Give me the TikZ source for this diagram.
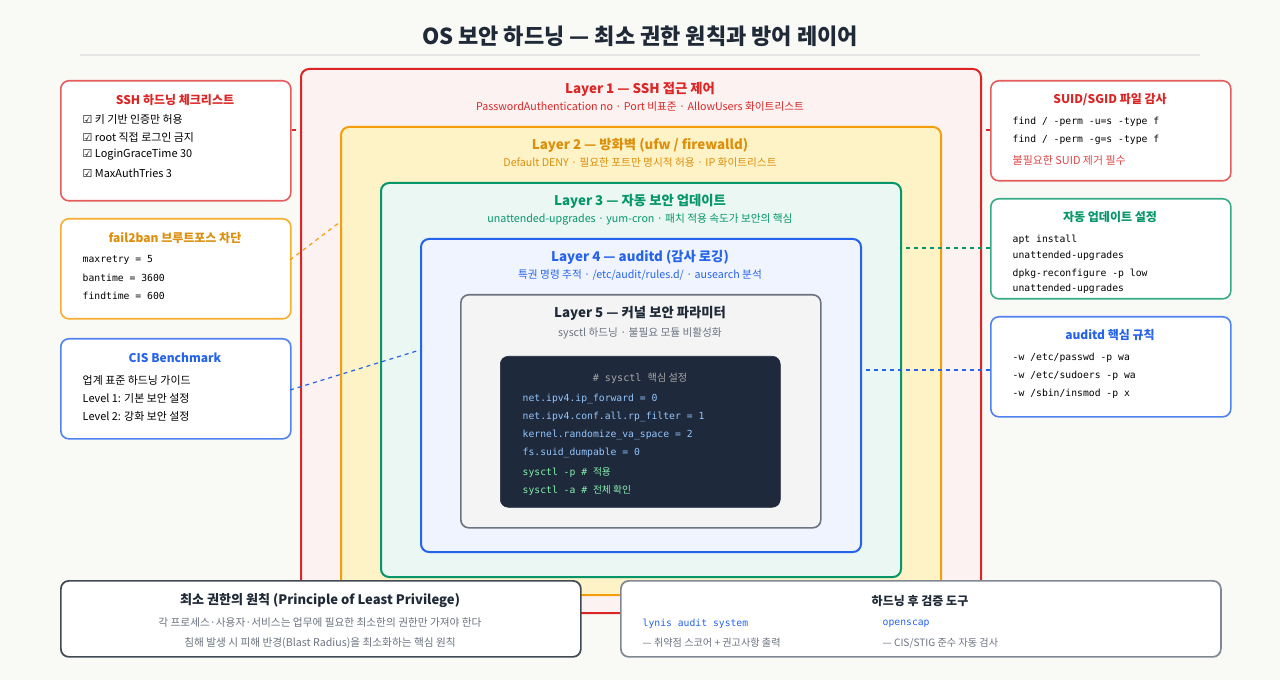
\documentclass[tikz,border=0pt]{standalone}
\usepackage{fontspec}
\setmainfont{Noto Sans CJK KR}
\setmonofont{DejaVu Sans Mono}
\newfontfamily\kr{Noto Sans CJK KR}
\newfontfamily\djsans{DejaVu Sans}
\usetikzlibrary{positioning}
\definecolor{cred}{HTML}{DC2626}
\definecolor{cora}{HTML}{F59E0B}
\definecolor{cgrn}{HTML}{059669}
\definecolor{cblu}{HTML}{2563EB}
\definecolor{cgry}{HTML}{6B7280}
\definecolor{cdark}{HTML}{1E293B}
\definecolor{ctxt}{HTML}{1F2937}
\definecolor{cbg}{HTML}{F9FAF6}
\definecolor{ccode}{HTML}{93C5FD}
\definecolor{ccodeg}{HTML}{86EFAC}
\definecolor{cyel}{HTML}{FEF3C7}
\newcommand{\bx}[6]{\node[#6, draw, rounded corners=6pt, anchor=north west, minimum width=#4*0.75pt, minimum height=#5*0.75pt, inner sep=0pt] (#1) at (#2,#3) {};}
\tikzset{
 lt/.style={font=\bfseries\fontsize{10}{12}\selectfont},
 ls/.style={font=\fontsize{8}{9}\selectfont},
 bt/.style={font=\bfseries\fontsize{9}{11}\selectfont},
 bl/.style={font=\fontsize{8.2}{9}\selectfont, anchor=west},
 ml/.style={font=\ttfamily\fontsize{7.3}{8}\selectfont, anchor=west},
 conn/.style={dashed, line width=0.9pt},
}
\begin{document}
\begin{tikzpicture}[x=0.75pt,y=-0.75pt]
\fill[cbg] (0,0) rectangle (1280,680);
\useasboundingbox (0,0) rectangle (1280,680);
\node[font=\bfseries\fontsize{16.5}{19}\selectfont, text=ctxt] (title) at (640,36) {OS 보안 하드닝 — 최소 권한 원칙과 방어 레이어};
\draw[gray!20, line width=0.8pt] (80,55) -- (1200,55);
% layers
\bx{L1}{300}{68}{680}{544}{cred, fill=cred!6, line width=1.5pt}
\bx{L2}{340}{126}{600}{468}{cora, fill=cyel, line width=1.5pt}
\bx{L3}{380}{182}{520}{394}{cgrn, fill=cgrn!8, line width=1.5pt}
\bx{L4}{420}{238}{440}{313}{cblu, fill=cblu!7, line width=1.5pt}
\bx{L5}{460}{294}{360}{233}{cgry, fill=gray!9, line width=1.2pt}
\bx{code}{500}{356}{280}{151}{cdark, fill=cdark}
\node[lt, text=cred] (l1t) at (640,89) {Layer 1 — SSH 접근 제어};
\node[ls, text=cred] (l1s) at (640,107) {PasswordAuthentication no · Port 비표준 · AllowUsers 화이트리스트};
\node[lt, text=cora!90!black] (l2t) at (640,145) {Layer 2 — 방화벽 (ufw / firewalld)};
\node[ls, text=cora!90!black] (l2s) at (640,163) {Default DENY · 필요한 포트만 명시적 허용 · IP 화이트리스트};
\node[lt, text=cgrn] (l3t) at (640,201) {Layer 3 — 자동 보안 업데이트};
\node[ls, text=cgrn] (l3s) at (640,219) {unattended-upgrades · yum-cron · 패치 적용 속도가 보안의 핵심};
\node[lt, text=cblu] (l4t) at (640,257) {Layer 4 — auditd (감사 로깅)};
\node[ls, text=cblu] (l4s) at (640,275) {특권 명령 추적 · /etc/audit/rules.d/ · ausearch 분석};
\node[lt, text=ctxt] (l5t) at (640,313) {Layer 5 — 커널 보안 파라미터};
\node[ls, text=cgry] (l5s) at (640,333) {sysctl 하드닝 · 불필요 모듈 비활성화};
\node[font=\ttfamily\fontsize{7.6}{9}\selectfont, text=gray!70] (c0) at (640,378) {\# sysctl {\kr 핵심 설정}};
\node[ml, text=ccode] (c1) at (518,399) {net.ipv4.ip\_forward = 0};
\node[ml, text=ccode] (c2) at (518,417) {net.ipv4.conf.all.rp\_filter = 1};
\node[ml, text=ccode] (c3) at (518,435) {kernel.randomize\_va\_space = 2};
\node[ml, text=ccode] (c4) at (518,453) {fs.suid\_dumpable = 0};
\node[ml, text=ccodeg] (c5) at (518,472) {sysctl -p \# {\kr 적용}};
\node[ml, text=ccodeg] (c6) at (518,490) {sysctl -a \# {\kr 전체 확인}};
% left boxes
\bx{ssh}{60}{80}{230}{120}{cred!75, fill=white, line width=1.2pt}
\node[bt, text=cred] at (175,100) {SSH 하드닝 체크리스트};
\node[bl] at (78,119) {{\djsans ☑} 키 기반 인증만 허용};
\node[bl] at (78,137) {{\djsans ☑} root 직접 로그인 금지};
\node[bl] at (78,155) {{\djsans ☑} LoginGraceTime 30};
\node[bl] at (78,173) {{\djsans ☑} MaxAuthTries 3};
\bx{f2b}{60}{218}{230}{100}{cora!85, fill=white, line width=1.2pt}
\node[bt, text=cora!90!black] at (175,238) {fail2ban 브루트포스 차단};
\node[ml] at (78,260) {maxretry = 5};
\node[ml] at (78,278) {bantime = 3600};
\node[ml] at (78,296) {findtime = 600};
\bx{cis}{60}{338}{230}{100}{cblu!80, fill=white, line width=1.2pt}
\node[bt, text=cblu] at (175,358) {CIS Benchmark};
\node[bl] at (78,380) {업계 표준 하드닝 가이드};
\node[bl] at (78,398) {Level 1: 기본 보안 설정};
\node[bl] at (78,416) {Level 2: 강화 보안 설정};
% right boxes
\bx{suid}{990}{80}{240}{100}{cred!75, fill=white, line width=1.2pt}
\node[bt, text=cred] at (1110,100) {SUID/SGID 파일 감사};
\node[ml] at (1008,122) {find / -perm -u=s -type f};
\node[ml] at (1008,140) {find / -perm -g=s -type f};
\node[bl, text=cred!85] at (1008,160) {불필요한 SUID 제거 필수};
\bx{upd}{990}{198}{240}{100}{cgrn!80, fill=white, line width=1.2pt}
\node[bt, text=cgrn] at (1110,217) {자동 업데이트 설정};
\node[ml] at (1008,240) {apt install};
\node[ml] at (1008,256) {unattended-upgrades};
\node[ml] at (1008,274) {dpkg-reconfigure -p low};
\node[ml] at (1008,289) {unattended-upgrades};
\bx{aud}{990}{316}{240}{100}{cblu!80, fill=white, line width=1.2pt}
\node[bt, text=cblu] at (1110,335) {auditd 핵심 규칙};
\node[ml] at (1008,358) {-w /etc/passwd -p wa};
\node[ml] at (1008,376) {-w /etc/sudoers -p wa};
\node[ml] at (1008,394) {-w /sbin/insmod -p x};
% connectors
\coordinate (a1) at (300,130); \coordinate (a2) at (340,222); \coordinate (a3) at (420,350);
\coordinate (b1) at (980,130); \coordinate (b2) at (900,248); \coordinate (b3) at (860,370);
\draw[conn, cred] (ssh.east |- a1) -- (a1);
\draw[conn, cora] (290,260) -- (a2);
\draw[conn, cblu] (290,390) -- (a3);
\draw[conn, cred] (suid.west |- b1) -- (b1);
\draw[conn, cgrn] (upd.west |- b2) -- (b2);
\draw[conn, cblu] (aud.west |- b3) -- (b3);
% bottom
\bx{plp}{60}{580}{520}{76}{ctxt!85, fill=white, line width=1.3pt}
\node[font=\bfseries\fontsize{9.8}{11}\selectfont, text=ctxt] at (320,601) {최소 권한의 원칙 (Principle of Least Privilege)};
\node[ls, text=cgry] at (320,623) {각 프로세스·사용자·서비스는 업무에 필요한 최소한의 권한만 가져야 한다};
\node[ls, text=cgry] at (320,643) {침해 발생 시 피해 반경(Blast Radius)을 최소화하는 핵심 원칙};
\bx{tools}{620}{580}{600}{76}{cgry!85, fill=white, line width=1.3pt}
\node[bt, text=ctxt] at (920,601) {하드닝 후 검증 도구};
\node[ml, text=cblu] at (638,624) {lynis audit system};
\node[ml, text=cblu] at (878,624) {openscap};
\node[bl, font=\fontsize{7.6}{9}\selectfont, text=cgry] at (638,643) {— 취약점 스코어 + 권고사항 출력};
\node[bl, font=\fontsize{7.6}{9}\selectfont, text=cgry] at (878,643) {— CIS/STIG 준수 자동 검사};
\end{tikzpicture}
\end{document}
